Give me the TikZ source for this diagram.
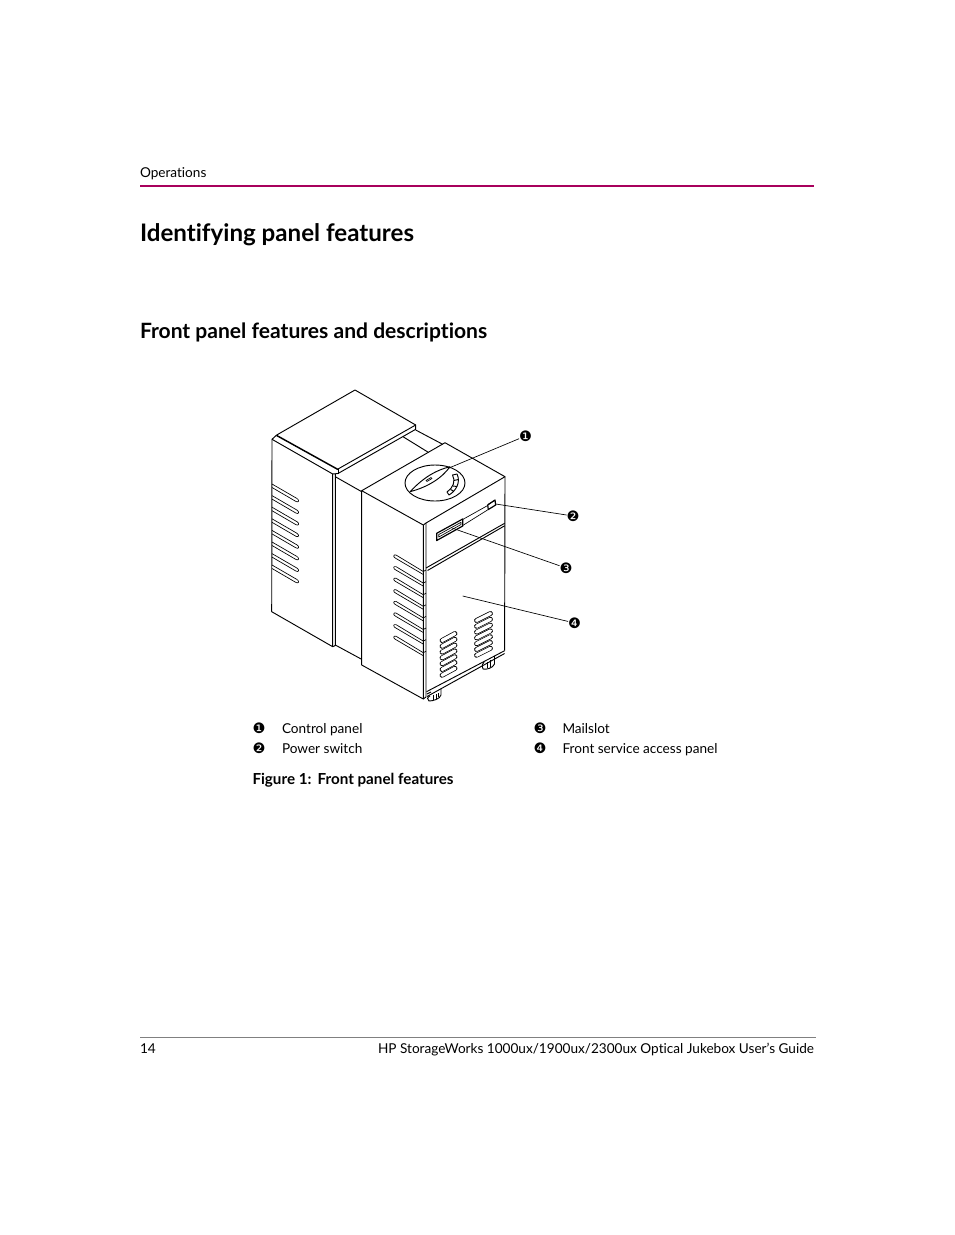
\documentclass[tikz,border=0pt]{standalone}
\usepackage{fontspec}
\setmainfont{Lato}[Ligatures=NoCommon]
\newfontfamily\numfont{DejaVu Sans}
\usepackage{xcolor}
\usetikzlibrary{arrows.meta,positioning,calc}
\definecolor{hpred}{HTML}{A8005C}
\tikzset{
  every node/.style={inner sep=0pt, outer sep=0pt},
  bodytext/.style={anchor=base west, font=\fontsize{10.2}{12}\selectfont},
  figtitle/.style={anchor=base west, font=\fontsize{11.4}{13}\bfseries\selectfont},
  headone/.style={anchor=base west, font=\fontsize{18.1}{20}\bfseries\selectfont},
  headtwo/.style={anchor=base west, font=\fontsize{15.8}{18}\bfseries\selectfont},
  callout/.style={font=\numfont\fontsize{10.8}{12}\selectfont},
  edge/.style={draw, line width=0.7pt, line join=round},
  thin edge/.style={draw, line width=0.5pt, line join=round},
  leader/.style={draw, line width=0.5pt},
  pill/.style={line width=0.55pt, double, double distance=2.5pt, line cap=round}
}
\begin{document}
\begin{tikzpicture}[x=0.75pt,y=-0.75pt]
\useasboundingbox (0,0) rectangle (954,1235);

% Page furniture
\node[bodytext] (running) at (140,177) {Operations};
\draw[hpred, line width=1.1pt] (140,186) -- (814,186);
\node[headone] (title) at (140,241.5) {Identifying panel features};
\node[headtwo] (subtitle) at (140,338.5) {Front panel features and descriptions};
\draw[gray, line width=0.5pt] (140,1037.5) -- (816,1037.5);
\node[bodytext] (pageno) at (140,1053) {14};
\node[bodytext, anchor=base east] (guide) at (814,1053) {HP StorageWorks 1000ux/1900ux/2300ux Optical Jukebox User's Guide};

% Top slab
\draw[edge] (272,439.3) -- (276.7,435) -- (355,390) -- (415.7,425) -- (415.7,429.3) -- (338,473.5) -- (332.7,474) -- cycle;
\draw[edge] (338,469) -- (415.7,425);
\draw[edge] (338,469) -- (338,473.5);
\draw[draw, line width=1.1pt] (276.7,435.5) -- (338,469.5);

% Left cabinet
\draw[edge] (272,439.3) -- (271.7,611.7) -- (332.7,646.7) -- (332.7,474);
\draw[edge] (335.3,474) -- (335.3,645.5) -- (332.7,646.7);

% Middle section
\draw[edge] (335.3,476.7) -- (361.7,491.7);
\draw[edge] (335.3,645) -- (361.7,659.3);
\draw[edge] (403,436.7) -- (428.3,452.3);
\draw[edge] (415.7,430) -- (442.7,444.3);

% Right cabinet
\draw[edge] (361.7,490.7) -- (445,442.7) -- (505,476.7) -- (426,523) -- (423.3,525) -- cycle;
\draw[edge] (361.7,490.7) -- (361.7,665) -- (423.3,699) -- (423.3,525);
\draw[edge] (426,523) -- (426,697) -- (423.3,699);
\draw[edge] (505,476.7) -- (504.6,650.7);
\draw[edge] (426.5,691.7) -- (504.6,650.7);
\draw[edge] (427,696.5) -- (504.6,653.5);
\draw[edge] (426,568) -- (504.6,523.3);
\draw[edge] (427.5,570.5) -- (504.6,525.8);

% Vent slats on the side panels
\foreach \y in {484,495.6,507.2,518.8,530.4,542,553.6,565} {
  \draw[thin edge] (272,\y) -- (297,\y+14.5) .. controls (299.5,\y+16) and (299,\y+19) .. (296,\y+17.5) -- (272,\y+3.5);
}
\foreach \y in {555,566.6,578.2,589.8,601.4,613,624.6,636.2} {
  \draw[thin edge] (423.3,\y+16.5) -- (396,\y) .. controls (393,\y-1) and (393,\y+2.5) .. (396,\y+3.5) -- (423.3,\y+19.5);
  \draw[thin edge] (423.3,\y+16.5) -- (426,\y+15);
}

% Front vents
\foreach \y in {0,5.8,...,35} {
  \draw[pill] (442,640.5+\y) -- (455,633.5+\y);
  \draw[pill] (476.5,620.5+\y) -- (490.5,613.5+\y);
}

% Feet
\draw[edge] (427,694) -- (431,692) (441,689) -- (441,695) .. controls (440,699) and (433,701) .. (429,701) .. controls (427,700) and (427,697) .. (430,696);
\draw[thin edge] (433,695) -- (433,700) (436,694) -- (436,699) (438.5,693) -- (438.5,697);
\draw[edge] (494.5,656) -- (494.5,664) .. controls (493,668) and (486,670) .. (483,669) .. controls (481.5,667) and (482,665) .. (484,662);
\draw[thin edge] (487,662) -- (487,668) (490,660) -- (490,667);

% Control panel
\draw[edge] (435,483) ellipse [x radius=30, y radius=18];
\draw[edge] (410,491.7) .. controls (425,476) and (437,470) .. (450,466.7) .. controls (442,478) and (428,487) .. (410,491.7);
\draw[thin edge] (426,480.5) -- (431,477.5) -- (432,478.5) -- (427,481.5) -- cycle;
\draw[edge] (452.5,475) .. controls (456,481) and (453,488) .. (447,492) -- (449,495) .. controls (456,491) and (461,482) .. (457,474) -- cycle;
\draw[edge] (453.8,480.5) -- (458.5,479.5) (453,486) -- (457,486.5) (450.5,489.5) -- (453.5,491);

% Mailslot and power switch
\draw[draw, line width=0.9pt, line join=round] (436.7,533.3) -- (462.7,519) -- (462.7,526) -- (436.7,540.5) -- cycle;
\draw[thin edge] (438.8,534.5) -- (461,522.3) -- (461,524.5) -- (438.8,537) -- cycle;
\draw[thin edge] (462.7,519.5) -- (487.7,505.5) (462.7,525.5) -- (488.3,509.5);
\draw[draw, line width=0.9pt, line join=round] (487.7,505) -- (495,500) -- (495.7,505) -- (488.3,509.5) -- cycle;
\draw[thin edge] (488.5,504) -- (494,500.8);

% Leaders
\coordinate (paneltip) at (449,468);
\coordinate (switchtip) at (495.7,504);
\coordinate (slottip) at (452,528);
\coordinate (doortip) at (462.7,596);
\node[callout] (call1) at (525.5,436) {❶};
\node[callout] (call2) at (573,516) {❷};
\node[callout] (call3) at (566,568) {❸};
\node[callout] (call4) at (574.5,623) {❹};
\draw[leader] (paneltip) -- (call1);
\draw[leader] (switchtip) -- (call2);
\draw[leader] (slottip) -- (call3);
\draw[leader] (doortip) -- (call4);

% Legend
\node[callout] (key1) at (259,728) {❶};
\node[callout] (key2) at (259,748) {❷};
\node[callout] (key3) at (540,728) {❸};
\node[callout] (key4) at (540,748) {❹};
\node[bodytext] (text1) at (282,733) {Control panel};
\node[bodytext] (text2) at (282,753) {Power switch};
\node[bodytext] (text3) at (562.5,733) {Mailslot};
\node[bodytext] (text4) at (562.5,753) {Front service access panel};
\node[figtitle] (caption) at (252.5,784) {Figure 1:\hspace{0.4em}Front panel features};
\end{tikzpicture}
\end{document}
